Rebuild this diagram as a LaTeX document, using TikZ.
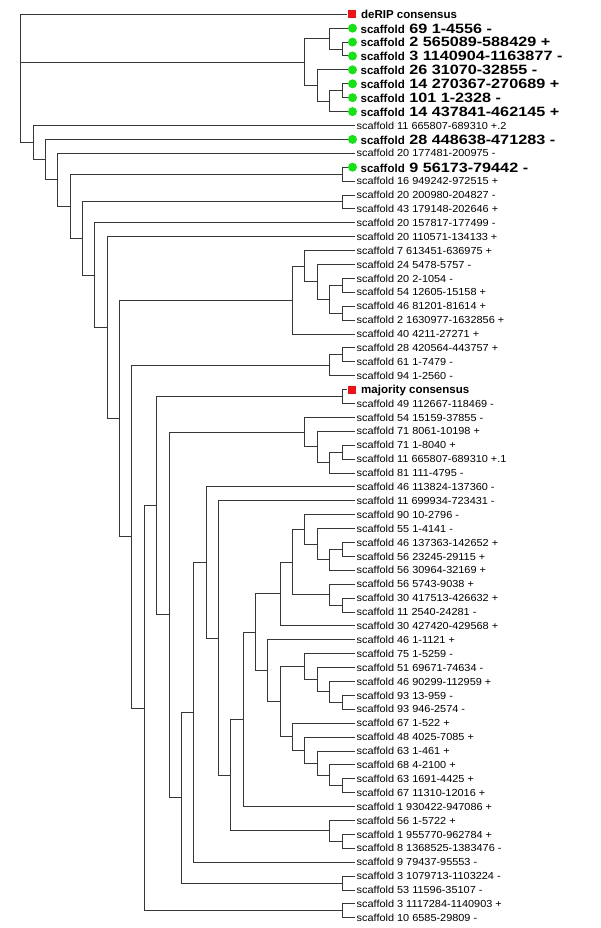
\documentclass[tikz,border=0pt]{standalone}
\usepackage{fontspec}
\setmainfont{Liberation Sans}
\newfontfamily\regfont[FakeStretch=1.07]{Liberation Sans}
\definecolor{gdotc}{RGB}{25,225,25}
\definecolor{rsqc}{RGB}{235,20,20}
\definecolor{edgec}{RGB}{55,55,55}
\newcommand\bscaf[1]{{\fontsize{11.5}{12}\selectfont\bfseries scaffold}\hspace{4.5pt}\scalebox{1.2}[1]{\fontsize{13.5}{14}\selectfont\bfseries #1}}
\begin{document}
\begin{tikzpicture}[x=1pt,y=-1pt,
  edge/.style={draw=edgec, line width=1pt},
  reg/.style={anchor=west, inner xsep=1.5pt, inner ysep=0pt, font=\regfont\fontsize{10.2}{12}\selectfont, text height=7.2pt, text depth=0pt},
  bld/.style={anchor=west, inner xsep=3.5pt, inner ysep=0pt, text height=9.7pt, text depth=0pt},
  cons/.style={anchor=west, inner xsep=5pt, inner ysep=0pt, font=\fontsize{11.5}{12}\selectfont\bfseries, text height=8.3pt, text depth=0pt},
  gdot/.style={circle, fill=gdotc, inner sep=0pt, minimum size=9pt},
  rsq/.style={rectangle, fill=rsqc, inner sep=0pt, minimum size=8pt}]
\useasboundingbox (0,0) rectangle (600,928);

% ---- leaves ----
\node[rsq] (m0) at (351.5,14.3) {};
\node[cons] (l0) at (356,14.3) {deRIP consensus};
\node[gdot] (m1) at (352.5,28.2) {};
\node[bld] (l1) at (357,28.2) {\bscaf{69 1-4556 -}};
\node[gdot] (m2) at (352.5,42.1) {};
\node[bld] (l2) at (357,42.1) {\bscaf{2 565089-588429 +}};
\node[gdot] (m3) at (352.5,56.0) {};
\node[bld] (l3) at (357,56.0) {\bscaf{3 1140904-1163877 -}};
\node[gdot] (m4) at (352.5,69.9) {};
\node[bld] (l4) at (357,69.9) {\bscaf{26 31070-32855 -}};
\node[gdot] (m5) at (352.5,83.8) {};
\node[bld] (l5) at (357,83.8) {\bscaf{14 270367-270689 +}};
\node[gdot] (m6) at (352.5,97.7) {};
\node[bld] (l6) at (357,97.7) {\bscaf{101 1-2328 -}};
\node[gdot] (m7) at (352.5,111.6) {};
\node[bld] (l7) at (357,111.6) {\bscaf{14 437841-462145 +}};
\node[reg] (l8) at (355,125.5) {scaffold 11 665807-689310 +.2};
\node[gdot] (m9) at (352.5,139.4) {};
\node[bld] (l9) at (357,139.4) {\bscaf{28 448638-471283 -}};
\node[reg] (l10) at (355,153.3) {scaffold 20 177481-200975 -};
\node[gdot] (m11) at (352.5,167.2) {};
\node[bld] (l11) at (357,167.2) {\bscaf{9 56173-79442 -}};
\node[reg] (l12) at (355,181.1) {scaffold 16 949242-972515 +};
\node[reg] (l13) at (355,195.0) {scaffold 20 200980-204827 -};
\node[reg] (l14) at (355,208.9) {scaffold 43 179148-202646 +};
\node[reg] (l15) at (355,222.8) {scaffold 20 157817-177499 -};
\node[reg] (l16) at (355,236.7) {scaffold 20 110571-134133 +};
\node[reg] (l17) at (355,250.6) {scaffold 7 613451-636975 +};
\node[reg] (l18) at (355,264.5) {scaffold 24 5478-5757 -};
\node[reg] (l19) at (355,278.4) {scaffold 20 2-1054 -};
\node[reg] (l20) at (355,292.3) {scaffold 54 12605-15158 +};
\node[reg] (l21) at (355,306.2) {scaffold 46 81201-81614 +};
\node[reg] (l22) at (355,320.1) {scaffold 2 1630977-1632856 +};
\node[reg] (l23) at (355,334.0) {scaffold 40 4211-27271 +};
\node[reg] (l24) at (355,347.9) {scaffold 28 420564-443757 +};
\node[reg] (l25) at (355,361.8) {scaffold 61 1-7479 -};
\node[reg] (l26) at (355,375.7) {scaffold 94 1-2560 -};
\node[rsq] (m27) at (351.5,389.6) {};
\node[cons] (l27) at (356,389.6) {majority consensus};
\node[reg] (l28) at (355,403.5) {scaffold 49 112667-118469 -};
\node[reg] (l29) at (355,417.4) {scaffold 54 15159-37855 -};
\node[reg] (l30) at (355,431.3) {scaffold 71 8061-10198 +};
\node[reg] (l31) at (355,445.2) {scaffold 71 1-8040 +};
\node[reg] (l32) at (355,459.1) {scaffold 11 665807-689310 +.1};
\node[reg] (l33) at (355,473.0) {scaffold 81 111-4795 -};
\node[reg] (l34) at (355,486.9) {scaffold 46 113824-137360 -};
\node[reg] (l35) at (355,500.8) {scaffold 11 699934-723431 -};
\node[reg] (l36) at (355,514.7) {scaffold 90 10-2796 -};
\node[reg] (l37) at (355,528.6) {scaffold 55 1-4141 -};
\node[reg] (l38) at (355,542.5) {scaffold 46 137363-142652 +};
\node[reg] (l39) at (355,556.4) {scaffold 56 23245-29115 +};
\node[reg] (l40) at (355,570.3) {scaffold 56 30964-32169 +};
\node[reg] (l41) at (355,584.2) {scaffold 56 5743-9038 +};
\node[reg] (l42) at (355,598.1) {scaffold 30 417513-426632 +};
\node[reg] (l43) at (355,612.0) {scaffold 11 2540-24281 -};
\node[reg] (l44) at (355,625.9) {scaffold 30 427420-429568 +};
\node[reg] (l45) at (355,639.8) {scaffold 46 1-1121 +};
\node[reg] (l46) at (355,653.7) {scaffold 75 1-5259 -};
\node[reg] (l47) at (355,667.6) {scaffold 51 69671-74634 -};
\node[reg] (l48) at (355,681.5) {scaffold 46 90299-112959 +};
\node[reg] (l49) at (355,695.4) {scaffold 93 13-959 -};
\node[reg] (l50) at (355,709.3) {scaffold 93 946-2574 -};
\node[reg] (l51) at (355,723.2) {scaffold 67 1-522 +};
\node[reg] (l52) at (355,737.1) {scaffold 48 4025-7085 +};
\node[reg] (l53) at (355,751.0) {scaffold 63 1-461 +};
\node[reg] (l54) at (355,764.9) {scaffold 68 4-2100 +};
\node[reg] (l55) at (355,778.8) {scaffold 63 1691-4425 +};
\node[reg] (l56) at (355,792.7) {scaffold 67 11310-12016 +};
\node[reg] (l57) at (355,806.6) {scaffold 1 930422-947086 +};
\node[reg] (l58) at (355,820.5) {scaffold 56 1-5722 +};
\node[reg] (l59) at (355,834.4) {scaffold 1 955770-962784 +};
\node[reg] (l60) at (355,848.3) {scaffold 8 1368525-1383476 -};
\node[reg] (l61) at (355,862.2) {scaffold 9 79437-95553 -};
\node[reg] (l62) at (355,876.1) {scaffold 3 1079713-1103224 -};
\node[reg] (l63) at (355,890.0) {scaffold 53 11596-35107 -};
\node[reg] (l64) at (355,903.9) {scaffold 3 1117284-1140903 +};
\node[reg] (l65) at (355,917.8) {scaffold 10 6585-29809 -};

% ---- internal nodes: x = 354.4 - 12.36*height ----
\coordinate (n23)   at ({354.4-12.36*1},49.05);
\coordinate (n1)    at ({354.4-12.36*2},38.625);
\coordinate (n56)   at ({354.4-12.36*1},90.75);
\coordinate (n567)  at ({354.4-12.36*2},101.175);
\coordinate (n4)    at ({354.4-12.36*3},85.54);
\coordinate (ngreen) at ({354.4-12.36*4},62.08);
\coordinate (n1112) at ({354.4-12.36*1},174.15);
\coordinate (n1314) at ({354.4-12.36*1},201.95);
\coordinate (n1920) at ({354.4-12.36*1},285.35);
\coordinate (n2122) at ({354.4-12.36*1},313.15);
\coordinate (nM)    at ({354.4-12.36*2},299.25);
\coordinate (nL)    at ({354.4-12.36*3},281.875);
\coordinate (nK)    at ({354.4-12.36*4},266.24);
\coordinate (nI)    at ({354.4-12.36*5},300.12);
\coordinate (n2425) at ({354.4-12.36*1},354.85);
\coordinate (n2426) at ({354.4-12.36*2},365.275);
\coordinate (n2728) at ({354.4-12.36*1},396.55);
\coordinate (n3132) at ({354.4-12.36*1},452.15);
\coordinate (nT)    at ({354.4-12.36*2},462.575);
\coordinate (nS)    at ({354.4-12.36*3},446.94);
\coordinate (nQ)    at ({354.4-12.36*4},432.17);
\coordinate (n3839) at ({354.4-12.36*1},549.45);
\coordinate (nAH)   at ({354.4-12.36*2},559.875);
\coordinate (nAG)   at ({354.4-12.36*3},544.24);
\coordinate (nAE)   at ({354.4-12.36*4},529.47);
\coordinate (n4243) at ({354.4-12.36*1},605.05);
\coordinate (nAF)   at ({354.4-12.36*2},594.625);
\coordinate (nAD)   at ({354.4-12.36*5},562.05);
\coordinate (nAB)   at ({354.4-12.36*6},593.97);
\coordinate (n4950) at ({354.4-12.36*1},702.35);
\coordinate (n48)   at ({354.4-12.36*2},691.925);
\coordinate (nAL)   at ({354.4-12.36*3},679.76);
\coordinate (nAJ)   at ({354.4-12.36*4},666.73);
\coordinate (n5556) at ({354.4-12.36*1},785.75);
\coordinate (nAO)   at ({354.4-12.36*2},775.325);
\coordinate (nAN)   at ({354.4-12.36*3},763.16);
\coordinate (nAM)   at ({354.4-12.36*4},750.13);
\coordinate (nAK)   at ({354.4-12.36*5},736.67);
\coordinate (nAI)   at ({354.4-12.36*6},701.7);
\coordinate (nAC)   at ({354.4-12.36*7},670.75);
\coordinate (nAA)   at ({354.4-12.36*8},632.36);
\coordinate (nY)    at ({354.4-12.36*9},719.48);
\coordinate (n5960) at ({354.4-12.36*1},841.35);
\coordinate (nZ)    at ({354.4-12.36*2},830.925);
\coordinate (nX)    at ({354.4-12.36*10},775.2);
\coordinate (nW)    at ({354.4-12.36*11},638.0);
\coordinate (nV)    at ({354.4-12.36*12},562.45);
\coordinate (nU)    at ({354.4-12.36*13},712.33);
\coordinate (n6263) at ({354.4-12.36*1},883.05);
\coordinate (nR)    at ({354.4-12.36*14},797.69);
\coordinate (nP)    at ({354.4-12.36*15},614.93);
\coordinate (nO)    at ({354.4-12.36*16},505.74);
\coordinate (n6465) at ({354.4-12.36*1},910.85);
\coordinate (nN)    at ({354.4-12.36*17},708.3);
\coordinate (nJ)    at ({354.4-12.36*18},536.79);
\coordinate (nH)    at ({354.4-12.36*19},418.46);
\coordinate (nG)    at ({354.4-12.36*20},327.58);
\coordinate (nF)    at ({354.4-12.36*21},275.19);
\coordinate (nE)    at ({354.4-12.36*22},238.57);
\coordinate (nD)    at ({354.4-12.36*23},206.36);
\coordinate (nC)    at ({354.4-12.36*24},179.83);
\coordinate (nB)    at ({354.4-12.36*25},159.6);
\coordinate (nA)    at ({354.4-12.36*26},142.55);
\coordinate (nroot) at ({354.4-12.36*27},78.4);

% ---- connectors ----
\foreach \p/\c in {nroot/m0, nroot/ngreen, nroot/nA,
  ngreen/n1, ngreen/n4, n1/m1, n1/n23, n23/m2, n23/m3,
  n4/m4, n4/n567, n567/n56, n567/m7, n56/m5, n56/m6,
  nA/l8, nA/nB, nB/m9, nB/nC, nC/l10, nC/nD,
  nD/n1112, nD/nE, n1112/m11, n1112/l12,
  nE/n1314, nE/nF, n1314/l13, n1314/l14,
  nF/l15, nF/nG, nG/l16, nG/nH, nH/nI, nH/nJ,
  nI/nK, nI/l23, nK/l17, nK/nL, nL/l18, nL/nM,
  nM/n1920, nM/n2122, n1920/l19, n1920/l20, n2122/l21, n2122/l22,
  nJ/n2426, nJ/nN, n2426/n2425, n2426/l26, n2425/l24, n2425/l25,
  nN/nO, nN/n6465, n6465/l64, n6465/l65,
  nO/n2728, nO/nP, n2728/m27, n2728/l28,
  nP/nQ, nP/nR, nQ/l29, nQ/nS, nS/l30, nS/nT,
  nT/n3132, nT/l33, n3132/l31, n3132/l32,
  nR/nU, nR/n6263, n6263/l62, n6263/l63,
  nU/nV, nU/l61, nV/l34, nV/nW, nW/l35, nW/nX,
  nX/nY, nX/nZ, nZ/l58, nZ/n5960, n5960/l59, n5960/l60,
  nY/nAA, nY/l57, nAA/nAB, nAA/nAC,
  nAB/nAD, nAB/l44, nAD/nAE, nAD/nAF,
  nAE/l36, nAE/nAG, nAG/l37, nAG/nAH, nAH/n3839, nAH/l40,
  n3839/l38, n3839/l39, nAF/l41, nAF/n4243, n4243/l42, n4243/l43,
  nAC/l45, nAC/nAI, nAI/nAJ, nAI/nAK,
  nAJ/l46, nAJ/nAL, nAL/l47, nAL/n48, n48/l48, n48/n4950,
  n4950/l49, n4950/l50,
  nAK/l51, nAK/nAM, nAM/l52, nAM/nAN, nAN/l53, nAN/nAO,
  nAO/l54, nAO/n5556, n5556/l55, n5556/l56}
  \draw[edge] (\p) |- (\c);
\end{tikzpicture}
\end{document}
